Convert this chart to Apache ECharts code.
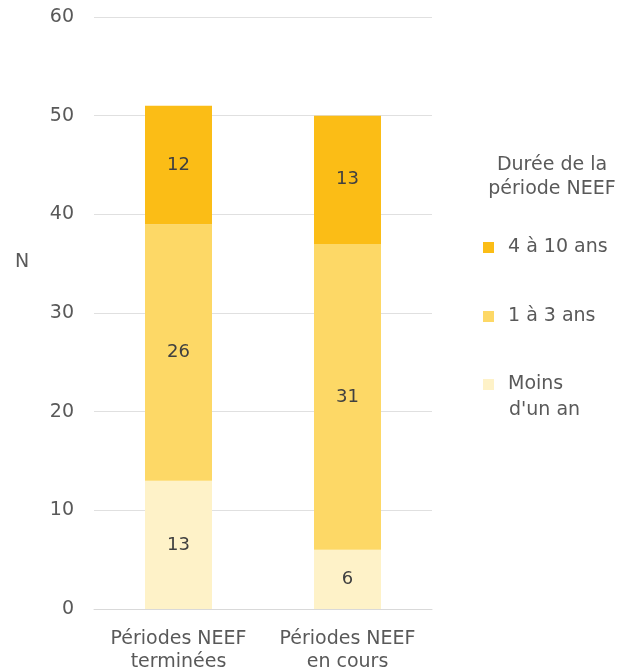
<!DOCTYPE html>
<html><head><meta charset="utf-8">
<script src="https://cdn.jsdelivr.net/npm/echarts@6/dist/echarts.min.js"></script>
<style>html,body{margin:0;padding:0;background:#fff}#c{width:619px;height:671px}</style>
</head><body><div id="c"></div>
<script>
const categories = ['Périodes NEEF\nterminées', 'Périodes NEEF\nen cours'];
const seriesNames = ['Moins d\'un an', '1 à 3 ans', '4 à 10 ans'];
const lessThanYear = [13, 6];
const oneToThree = [26, 31];
const fourToTen = [12, 13];
const yTicks = [0, 10, 20, 30, 40, 50, 60];
const colors = ['#FEF2C8', '#FDD866', '#FBBD16'];
const font = 'DejaVu Sans';
const fs = 19;
const grey = '#595959';

const chart = echarts.init(document.getElementById('c'));
const mk = (name, data, color) => ({
  name, type: 'bar', stack: 'a', data, barWidth: 67,
  itemStyle: { color },
  label: { show: true, position: 'inside', color: '#404040', fontFamily: font, fontSize: 18 }
});
const legendText = { fontFamily: font, fontSize: fs, color: grey, padding: [0, 0, 0, 9] };
chart.setOption({
  animation: false,
  textStyle: { fontFamily: font },
  title: [
    { text: 'N', left: 10, top: 248, textStyle: { fontFamily: font, fontSize: fs, fontWeight: 'normal', color: grey } },
    { text: 'Durée de la\npériode NEEF', left: 547, top: 148, textAlign: 'center',
      textStyle: { fontFamily: font, fontSize: fs, fontWeight: 'normal', color: grey, lineHeight: 24 } },
    { text: 'd\'un an', left: 504, top: 393,
      textStyle: { fontFamily: font, fontSize: fs, fontWeight: 'normal', color: grey, lineHeight: 24 } }
  ],
  legend: [
    { data: [seriesNames[2]], left: 478, top: 233, itemWidth: 11, itemHeight: 11, icon: 'rect', textStyle: legendText },
    { data: [seriesNames[1]], left: 478, top: 302, itemWidth: 11, itemHeight: 11, icon: 'rect', textStyle: legendText },
    { data: [seriesNames[0]], left: 478, top: 370, itemWidth: 11, itemHeight: 11, icon: 'rect', textStyle: legendText,
      formatter: (n) => n.split(' ')[0] }
  ],
  grid: { left: 94, right: 187, top: 17, bottom: 62, outerBoundsMode: 'none', containLabel: false },
  xAxis: {
    type: 'category', data: categories,
    axisLine: { lineStyle: { color: '#d9d9d9' } }, axisTick: { show: false },
    axisLabel: { interval: 0, fontFamily: font, fontSize: fs, color: grey, margin: 19, lineHeight: 23 }
  },
  yAxis: {
    type: 'value', min: yTicks[0], max: yTicks[yTicks.length - 1], interval: 10,
    axisLine: { show: false }, axisTick: { show: false },
    splitLine: { lineStyle: { color: '#e0e0e0' } },
    axisLabel: { fontFamily: font, fontSize: fs, color: grey, margin: 20 }
  },
  series: [
    mk(seriesNames[0], lessThanYear, colors[0]),
    mk(seriesNames[1], oneToThree, colors[1]),
    mk(seriesNames[2], fourToTen, colors[2])
  ]
});
</script></body></html>
